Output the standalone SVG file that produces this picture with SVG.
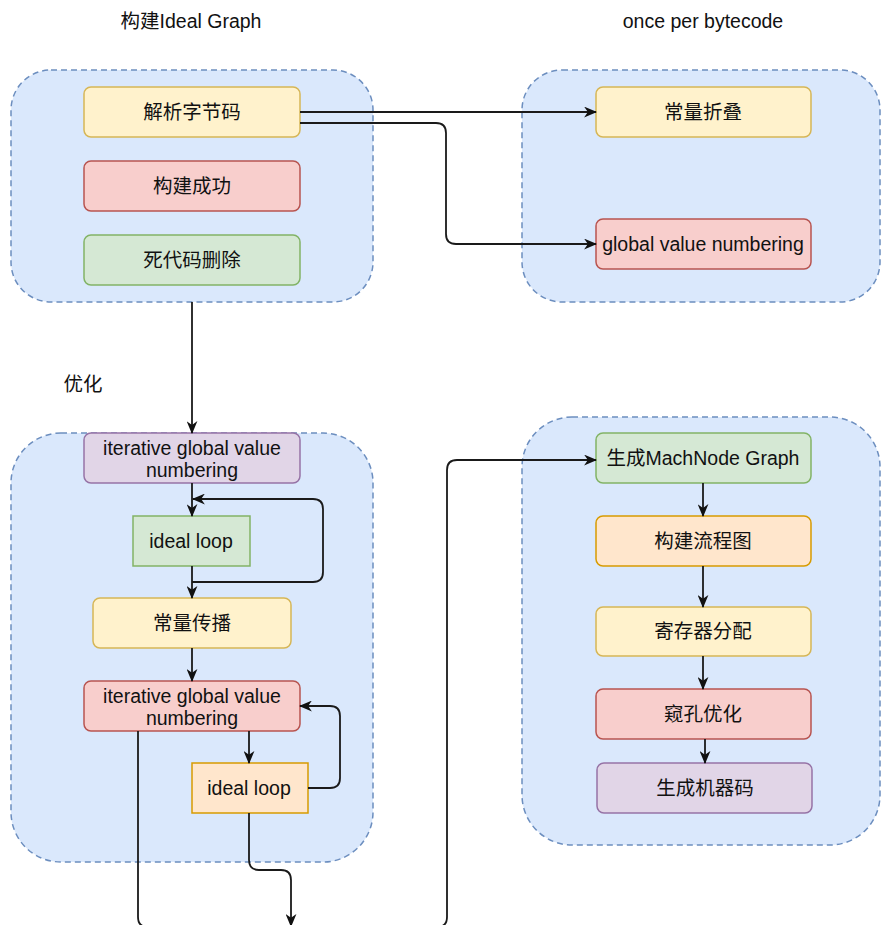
<svg xmlns="http://www.w3.org/2000/svg" width="894" height="925" viewBox="0 0 894 925">
<style>
  text { font-family: "Liberation Sans", Arial, "Noto Sans CJK SC", sans-serif; font-size: 19.5px; fill: #111; text-anchor: middle; dominant-baseline: central; }
  .grp { fill: #dae8fc; stroke: #6c8ebf; stroke-width: 1.5; stroke-dasharray: 6 4; }
  .yellow { fill: #fff2cc; stroke: #d6b656; stroke-width: 1.5; }
  .red { fill: #f8cecc; stroke: #b85450; stroke-width: 1.5; }
  .green { fill: #d5e8d4; stroke: #82b366; stroke-width: 1.5; }
  .purple { fill: #e1d5e7; stroke: #9673a6; stroke-width: 1.5; }
  .orange { fill: #ffe6cc; stroke: #d79b00; stroke-width: 1.5; }
  .edge { fill: none; stroke: #1a1a1a; stroke-width: 1.8; marker-end: url(#arr); }
</style>
<defs>
  <marker id="arr" markerUnits="userSpaceOnUse" viewBox="0 0 12 10" refX="11" refY="5" markerWidth="13" markerHeight="11" orient="auto">
    <path d="M0,0 L12,5 L0,10 L3.5,5 z" fill="#111"/>
  </marker>
</defs>
<rect width="894" height="925" fill="#ffffff"/>

<g id="labels">
  <text x="191" y="21">构建Ideal Graph</text>
  <text x="703" y="21">once per bytecode</text>
  <text x="83" y="384">优化</text>
</g>

<g id="group-build"><rect class="grp" x="11" y="70" width="362" height="232" rx="40"/></g>
<g id="group-once"><rect class="grp" x="522" y="70" width="358" height="232" rx="40"/></g>
<g id="group-opt"><rect class="grp" x="11" y="433" width="362" height="429" rx="50"/></g>
<g id="group-mach"><rect class="grp" x="522" y="417" width="358" height="428" rx="50"/></g>

<g id="n-parse"><rect class="yellow" x="84" y="87" width="216" height="50" rx="7"/><text x="192" y="112">解析字节码</text></g>
<g id="n-built"><rect class="red" x="84" y="161" width="216" height="50" rx="7"/><text x="192" y="186">构建成功</text></g>
<g id="n-dce"><rect class="green" x="84" y="235" width="216" height="50" rx="7"/><text x="192" y="260">死代码删除</text></g>

<g id="n-cfold"><rect class="yellow" x="596" y="87" width="215" height="50" rx="7"/><text x="703" y="112">常量折叠</text></g>
<g id="n-gvn"><rect class="red" x="596" y="219" width="215" height="50" rx="7"/><text x="703" y="244">global value numbering</text></g>

<g id="n-igvn1"><rect class="purple" x="84" y="433" width="216" height="50" rx="7"/><text x="192" y="448">iterative global value</text><text x="192" y="470">numbering</text></g>
<g id="n-loop1"><rect class="green" x="133" y="516" width="117" height="50"/><text x="191" y="541">ideal loop</text></g>
<g id="n-cprop"><rect class="yellow" x="93" y="598" width="198" height="50" rx="7"/><text x="192" y="623">常量传播</text></g>
<g id="n-igvn2"><rect class="red" x="84" y="681" width="216" height="50" rx="7"/><text x="192" y="696">iterative global value</text><text x="192" y="718">numbering</text></g>
<g id="n-loop2"><rect class="orange" x="192" y="763" width="116" height="50"/><text x="249" y="788">ideal loop</text></g>

<g id="n-mach"><rect class="green" x="596" y="433" width="215" height="50" rx="7"/><text x="703" y="458">生成MachNode Graph</text></g>
<g id="n-cfg"><rect class="orange" x="596" y="516" width="215" height="50" rx="7"/><text x="703" y="541">构建流程图</text></g>
<g id="n-regalloc"><rect class="yellow" x="596" y="607" width="215" height="49" rx="7"/><text x="703" y="631">寄存器分配</text></g>
<g id="n-peep"><rect class="red" x="596" y="689" width="215" height="50" rx="7"/><text x="703" y="714">窥孔优化</text></g>
<g id="n-emit"><rect class="purple" x="597" y="763" width="215" height="50" rx="7"/><text x="705" y="788">生成机器码</text></g>

<g id="connectors">
  <path class="edge" d="M300,112 H596"/>
  <path class="edge" d="M300,123 H436 Q446,123 446,133 V234 Q446,244 456,244 H596"/>
  <path class="edge" d="M192,302 V433"/>
  <path class="edge" d="M192,483 V516"/>
  <path class="edge" d="M192,582 H313 Q323,582 323,572 V509 Q323,499 313,499 H193"/>
  <path class="edge" d="M192,566 V598"/>
  <path class="edge" d="M192,648 V681"/>
  <path class="edge" d="M249,731 V763"/>
  <path class="edge" d="M308,788 H330 Q340,788 340,778 V716 Q340,706 330,706 H300"/>
  <path class="edge" d="M249,813 V860 Q249,870 259,870 H281 Q291,870 291,880 V926"/>
  <path class="edge" d="M138,731 V917 Q138,927 148,927 H437 Q447,927 447,917 V470 Q447,460 457,460 H596"/>
  <path class="edge" d="M703,483 V516"/>
  <path class="edge" d="M703,566 V607"/>
  <path class="edge" d="M703,656 V689"/>
  <path class="edge" d="M705,739 V763"/>
</g>
</svg>
